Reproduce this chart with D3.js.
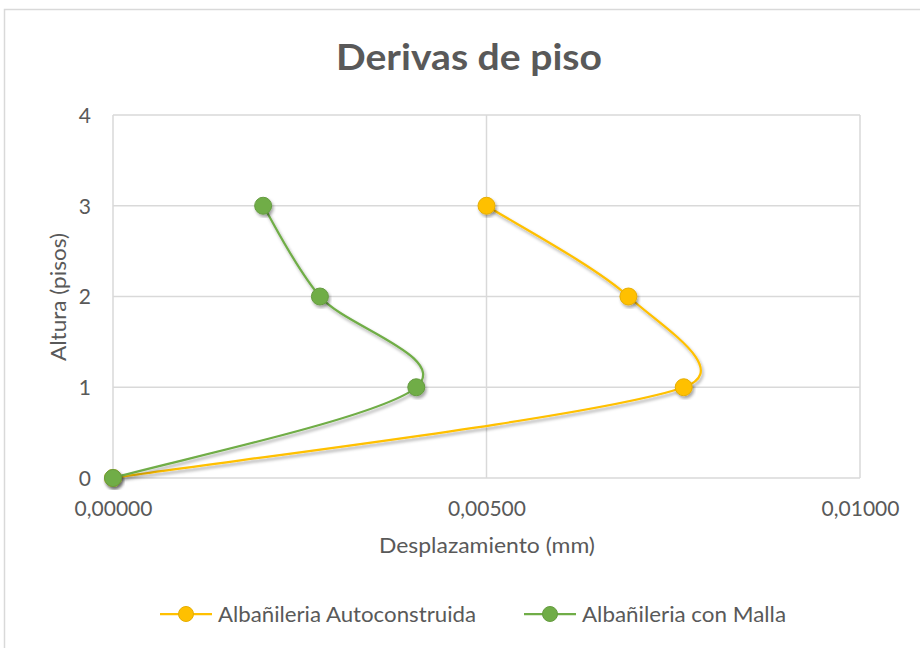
<!DOCTYPE html>
<html>
<head>
<meta charset="utf-8">
<script src="https://cdn.jsdelivr.net/npm/d3@7"></script>
<style>
  html, body { margin: 0; padding: 0; background: #ffffff; }
  svg { display: block; }
  text { font-family: Lato, "Open Sans", sans-serif; fill: #595959; }
</style>
</head>
<body>
<svg id="chart" width="920" height="648"></svg>
<script>
// Story drift per floor (desplazamiento vs. altura)
const floors = [0, 1, 2, 3];
const autoconstruida = [0.00000, 0.00764, 0.00690, 0.00500];
const conMalla = [0.00000, 0.00406, 0.00277, 0.00201];
const xTicks = [0, 0.005, 0.01];
const yTicks = [0, 1, 2, 3, 4];

const seriesList = [
  { name: "Albañileria Autoconstruida", values: autoconstruida, color: "#FFC000" },
  { name: "Albañileria con Malla", values: conMalla, color: "#70AD47" }
];

const W = 920, H = 648;
const plot = { left: 113, right: 860, top: 115, bottom: 478 };

// Spreadsheet-style smoothing: Bezier segments whose control arms follow
// (P[i+1] - P[i-1]) / 6, capped at half of the segment length.
function curveSpreadsheet(context) {
  let pts = [];
  return {
    areaStart() {}, areaEnd() {},
    lineStart() { pts = []; },
    point(px, py) { pts.push([+px, +py]); },
    lineEnd() {
      const n = pts.length;
      if (!n) return;
      context.moveTo(pts[0][0], pts[0][1]);
      const P = i => pts[Math.max(0, Math.min(n - 1, i))];
      const dist = (a, b) => Math.hypot(b[0] - a[0], b[1] - a[1]);
      for (let i = 0; i < n - 1; i++) {
        const p0 = P(i - 1), p1 = P(i), p2 = P(i + 1), p3 = P(i + 2);
        const half = dist(p1, p2) / 2;
        const d02 = dist(p0, p2), d13 = dist(p1, p3);
        const f1 = d02 > 0 ? Math.min(1 / 6, half / d02) : 0;
        const f2 = d13 > 0 ? Math.min(1 / 6, half / d13) : 0;
        const c1 = [p1[0] + (p2[0] - p0[0]) * f1, p1[1] + (p2[1] - p0[1]) * f1];
        const c2 = [p2[0] - (p3[0] - p1[0]) * f2, p2[1] - (p3[1] - p1[1]) * f2];
        context.bezierCurveTo(c1[0], c1[1], c2[0], c2[1], p2[0], p2[1]);
      }
    }
  };
}

const svg = d3.select("#chart");

// soft drop shadow used under lines and markers
const defs = svg.append("defs");
const f = defs.append("filter").attr("id", "shadow")
  .attr("x", "-20%").attr("y", "-20%").attr("width", "140%").attr("height", "140%");
f.append("feDropShadow").attr("dx", 1.5).attr("dy", 2.5)
  .attr("stdDeviation", 1.8).attr("flood-color", "#000").attr("flood-opacity", 0.35);

// chart frame
svg.append("rect").attr("x", 4.5).attr("y", 9.5)
  .attr("width", W + 10).attr("height", H + 10)
  .attr("fill", "#fff").attr("stroke", "#D9D9D9").attr("stroke-width", 1.5);

const x = d3.scaleLinear().domain([0, 0.01]).range([plot.left, plot.right]);
const y = d3.scaleLinear().domain([0, 4]).range([plot.bottom, plot.top]);

// gridlines
const grid = svg.append("g");
grid.selectAll("line.h").data(yTicks).join("line")
  .attr("x1", plot.left).attr("x2", plot.right)
  .attr("y1", d => y(d)).attr("y2", d => y(d))
  .attr("stroke", "#D9D9D9").attr("stroke-width", 1.5);
grid.selectAll("line.v").data(xTicks).join("line")
  .attr("y1", plot.top).attr("y2", plot.bottom)
  .attr("x1", d => x(d)).attr("x2", d => x(d))
  .attr("stroke", "#D9D9D9").attr("stroke-width", 1.5);

// axes (labels only)
const fmt = d => d3.format(".5f")(d).replace(".", ",");
const xAxis = svg.append("g").attr("transform", `translate(0,${plot.bottom})`)
  .call(d3.axisBottom(x).tickValues(xTicks).tickFormat(fmt).tickSize(0).tickPadding(0));
xAxis.select(".domain").remove();
xAxis.selectAll("text").attr("y", 38).attr("dy", 0)
  .style("font-size", "21px").style("font-family", "Lato").attr("fill", "#595959");

const yAxis = svg.append("g").attr("transform", `translate(${plot.left},0)`)
  .call(d3.axisLeft(y).tickValues(yTicks).tickFormat(d3.format("d")).tickSize(0).tickPadding(0));
yAxis.select(".domain").remove();
yAxis.selectAll("text").attr("x", -22).attr("dy", "0.35em")
  .style("font-size", "21px").style("font-family", "Lato").attr("fill", "#595959");

// title and axis titles
svg.append("text").attr("x", 469).attr("y", 70).attr("text-anchor", "middle")
  .attr("textLength", 266).attr("lengthAdjust", "spacingAndGlyphs")
  .style("font-size", "36px").style("font-weight", "bold").text("Derivas de piso");
svg.append("text").attr("x", 487).attr("y", 553).attr("text-anchor", "middle")
  .attr("textLength", 216).attr("lengthAdjust", "spacingAndGlyphs")
  .style("font-size", "21px").text("Desplazamiento (mm)");
svg.append("text").attr("transform", `translate(66,297) rotate(-90)`).attr("text-anchor", "middle")
  .attr("textLength", 128).attr("lengthAdjust", "spacingAndGlyphs")
  .style("font-size", "21px").text("Altura (pisos)");

// series: smoothed lines with circular markers
const line = d3.line()
  .x(d => x(d[0])).y(d => y(d[1]))
  .curve(curveSpreadsheet);

const seriesG = svg.append("g");
seriesList.forEach(s => {
  const pts = s.values.map((v, i) => [v, floors[i]]);
  const g = seriesG.append("g");
  g.append("path").datum(pts).attr("d", line)
    .attr("fill", "none").attr("stroke", s.color).attr("stroke-width", 2.25)
    .attr("filter", "url(#shadow)");
  g.selectAll("circle").data(pts).join("circle")
    .attr("cx", d => x(d[0])).attr("cy", d => y(d[1])).attr("r", 8.5)
    .attr("fill", s.color).attr("stroke", d3.color(s.color).darker(0.3)).attr("stroke-width", 1)
    .attr("filter", "url(#shadow)");
});

// legend
const legendItems = [
  { x0: 160, x1: 212, tx: 218, w: 258 },
  { x0: 524, x1: 576, tx: 582, w: 204 }
];
const legend = svg.append("g");
seriesList.forEach((s, i) => {
  const L = legendItems[i];
  const ly = 614;
  legend.append("line").attr("x1", L.x0).attr("x2", L.x1).attr("y1", ly).attr("y2", ly)
    .attr("stroke", s.color).attr("stroke-width", 2.25);
  legend.append("circle").attr("cx", (L.x0 + L.x1) / 2).attr("cy", ly).attr("r", 7.5)
    .attr("fill", s.color).attr("stroke", d3.color(s.color).darker(0.3)).attr("stroke-width", 1);
  legend.append("text").attr("x", L.tx).attr("y", 622)
    .attr("textLength", L.w).attr("lengthAdjust", "spacingAndGlyphs")
    .style("font-size", "21px").text(s.name);
});
</script>
</body>
</html>
